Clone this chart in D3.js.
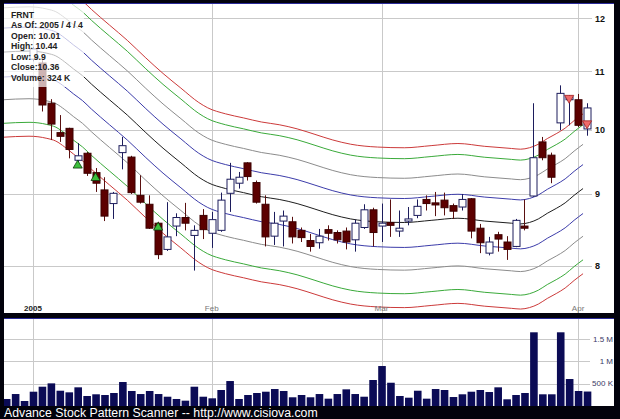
<!DOCTYPE html>
<html><head><meta charset="utf-8">
<script src="https://cdn.jsdelivr.net/npm/d3@7"></script>
<style>html,body{margin:0;padding:0;background:#000;}svg{display:block;}</style>
</head><body>
<svg id="chart" width="620" height="419"></svg>
<script>
// ---------- data ----------
const dates = [
 "2004-12-29","2004-12-30","2004-12-31",
 "2005-01-03","2005-01-04","2005-01-05","2005-01-06","2005-01-07","2005-01-10","2005-01-11","2005-01-12","2005-01-13","2005-01-14",
 "2005-01-18","2005-01-19","2005-01-20","2005-01-21","2005-01-24","2005-01-25","2005-01-26","2005-01-27","2005-01-28","2005-01-31",
 "2005-02-01","2005-02-02","2005-02-03","2005-02-04","2005-02-07","2005-02-08","2005-02-09","2005-02-10","2005-02-11","2005-02-14",
 "2005-02-15","2005-02-16","2005-02-17","2005-02-18","2005-02-22","2005-02-23","2005-02-24","2005-02-25","2005-02-28",
 "2005-03-01","2005-03-02","2005-03-03","2005-03-04","2005-03-07","2005-03-08","2005-03-09","2005-03-10","2005-03-11","2005-03-14",
 "2005-03-15","2005-03-16","2005-03-17","2005-03-18","2005-03-21","2005-03-22","2005-03-23","2005-03-24","2005-03-28","2005-03-29",
 "2005-03-30","2005-03-31","2005-04-01","2005-04-04"];
const openP = [null,null,null,
 11.22,11.15,10.44,9.95,10.02,9.51,9.62,9.32,9.06,8.86,
 9.63,9.56,8.98,8.85,8.58,8.22,8.54,8.66,8.41,8.69,
 8.44,8.48,9.01,9.16,9.47,9.17,8.85,8.40,8.61,8.60,
 8.48,8.34,8.31,8.49,8.45,8.47,8.35,8.52,8.77,
 8.54,8.59,8.47,8.61,8.69,8.92,8.87,8.91,8.83,8.81,
 8.93,8.51,8.17,8.42,8.32,8.26,8.54,8.97,9.80,9.59,
 10.11,10.50,10.50,10.01];
const highP = [null,null,null,
 11.45,11.20,10.51,10.24,10.03,9.78,9.64,9.39,9.25,9.03,
 9.88,9.58,9.28,8.98,8.60,8.88,8.72,8.87,8.55,8.78,
 8.74,9.02,9.47,9.33,9.48,9.20,8.98,8.74,8.76,8.67,
 8.52,8.43,8.50,8.55,8.48,8.52,8.63,8.85,8.80,
 8.86,8.92,8.76,8.81,8.92,8.98,9.03,9.02,8.86,9.00,
 8.94,8.57,8.39,8.46,8.40,8.64,8.92,10.44,9.88,9.63,
 10.75,10.58,10.60,10.44];
const lowP = [null,null,null,
 11.18,10.30,9.83,9.80,9.54,9.40,9.27,9.03,8.61,8.64,
 9.37,9.00,8.86,8.50,8.09,8.20,8.40,8.48,7.94,8.36,
 8.24,8.46,8.74,9.08,9.20,8.86,8.26,8.28,8.26,8.30,
 8.32,8.19,8.23,8.34,8.30,8.22,8.19,8.50,8.26,
 8.32,8.39,8.39,8.55,8.65,8.76,8.68,8.69,8.64,8.76,
 8.37,8.17,8.14,8.19,8.08,8.25,8.48,8.96,9.51,9.16,
 9.99,10.07,10.04,9.90];
const closeP = [null,null,null,
 11.41,10.41,10.09,9.89,9.68,9.58,9.31,9.16,8.68,9.01,
 9.74,9.02,8.88,8.51,8.15,8.39,8.66,8.58,8.48,8.49,
 8.63,8.91,9.22,9.25,9.26,8.88,8.39,8.58,8.68,8.39,
 8.38,8.26,8.40,8.44,8.35,8.32,8.58,8.77,8.45,
 8.58,8.55,8.51,8.64,8.82,8.86,8.84,8.80,8.75,8.92,
 8.47,8.31,8.32,8.36,8.22,8.62,8.51,9.55,9.55,9.25,
 10.61,10.55,10.07,10.36];
const volumeK = [157,268,112,
 320,432,507,342,306,418,224,262,246,291,
 537,336,268,336,268,208,157,119,432,208,
 172,358,559,157,246,291,320,380,336,195,
 246,195,268,164,268,373,268,208,582,
 895,521,224,186,342,164,380,358,201,262,
 320,358,313,418,150,246,291,1650,262,262,
 1650,604,336,324];

// center moving average (read at knots) and envelope percentages
const maDates = ["2004-12-29","2005-01-03","2005-01-05","2005-01-06","2005-01-07","2005-01-10","2005-01-11","2005-01-12",
 "2005-01-14","2005-01-19","2005-01-21","2005-01-25","2005-01-27","2005-01-31","2005-02-01","2005-02-03","2005-02-07",
 "2005-02-09","2005-02-11","2005-02-15","2005-02-17","2005-02-22","2005-02-24","2005-03-01","2005-03-04","2005-03-09",
 "2005-03-14","2005-03-17","2005-03-22","2005-03-23","2005-03-24","2005-03-28","2005-03-29","2005-03-30","2005-03-31",
 "2005-04-01","2005-04-04"];
const maCenter = [11.35,11.37,11.33,11.28,11.17,11.04,10.92,10.77,
 10.50,10.24,9.96,9.70,9.47,9.25,9.17,9.08,9.02,
 8.96,8.92,8.86,8.78,8.70,8.64,8.60,8.59,8.62,
 8.65,8.61,8.58,8.57,8.59,8.64,8.72,8.79,8.87,
 8.98,9.08];
const bandPct = [13, 11, 7.5, 4, 0, -4, -7.5, -11, -13];
const bandColors = ["#cc3a3a","#3aaa3a","#8c8c8c","#3c3caa","#1e1e1e","#3c3caa","#8c8c8c","#3aaa3a","#cc3a3a"];

const upSignalDates = ["2005-01-10","2005-01-12","2005-01-24"];
const upSignalPrices = [9.43,9.24,8.52];
const downSignalDates = ["2005-03-31","2005-04-04"];
const downSignalPrices = [10.53,10.10];

const priceTicks = [8,9,10,11,12];
const volTicks = [500000,1000000,1500000];
const volTickLabels = ["500 K","1 M","1.5 M"];
const monthTickDates = ["2005-01-03","2005-02-01","2005-03-01","2005-04-01"];
const monthTickLabels = ["2005","Feb","Mar","Apr"];
const infoLines = ["FRNT","As Of: 2005 / 4 / 4","Open: 10.01","High: 10.44","Low: 9.9","Close:10.36","Volume: 324 K"];
const caption = "Advance Stock Pattern Scanner -- http://www.cisiova.com";

// ---------- drawing ----------
(function () {
const svg = d3.select("#chart");
const W = 620, H = 419;
const font = "'Liberation Sans', Arial, Helvetica, sans-serif";

svg.append("rect").attr("width", W).attr("height", H).attr("fill", "#02020c");

const pTop = {x:4, y:4, w:610, h:309};
const pBot = {x:4, y:319, w:610, h:87};

svg.append("rect").attr("x", pTop.x).attr("y", pTop.y).attr("width", pTop.w).attr("height", pTop.h).attr("fill", "#fff");
svg.append("rect").attr("x", pBot.x).attr("y", pBot.y).attr("width", pBot.w).attr("height", pBot.h).attr("fill", "#fff");
svg.append("line").attr("x1", 4).attr("x2", 614).attr("y1", 3.5).attr("y2", 3.5).attr("stroke", "#2a2a9a");
svg.append("line").attr("x1", 4).attr("x2", 614).attr("y1", 318.5).attr("y2", 318.5).attr("stroke", "#2a2a9a");

const defs = svg.append("defs");
defs.append("clipPath").attr("id", "clipTop").append("rect")
  .attr("x", pTop.x).attr("y", pTop.y).attr("width", pTop.w).attr("height", pTop.h);
defs.append("clipPath").attr("id", "clipBot").append("rect")
  .attr("x", pBot.x).attr("y", pBot.y).attr("width", pBot.w).attr("height", pBot.h);

const x = d3.scaleBand().domain(dates).range([1.73, 591.5]).padding(0);
const xc = d => x(d) + x.bandwidth() / 2;
const y = d3.scaleLog().domain([7.42, 12.28]).range([312, 4]);
const yv = d3.scaleLinear().domain([0, 1500000]).range([406, 339]);

const gTop = svg.append("g").attr("clip-path", "url(#clipTop)");
const gBot = svg.append("g").attr("clip-path", "url(#clipBot)");

const gridColor = "#c9c9c9";
gTop.selectAll(".hg").data(priceTicks).enter().append("line")
  .attr("x1", 4).attr("x2", 592)
  .attr("y1", d => Math.round(y(d)) + 0.5).attr("y2", d => Math.round(y(d)) + 0.5)
  .attr("stroke", gridColor);
[gTop, gBot].forEach(g => {
  g.selectAll(".vg").data(monthTickDates).enter().append("line")
    .attr("x1", d => Math.round(xc(d)) + 0.5).attr("x2", d => Math.round(xc(d)) + 0.5)
    .attr("y1", 0).attr("y2", H).attr("stroke", gridColor);
});
gBot.selectAll(".vhg").data(volTicks).enter().append("line")
  .attr("x1", 4).attr("x2", 590)
  .attr("y1", d => Math.round(yv(d)) + 0.5).attr("y2", d => Math.round(yv(d)) + 0.5)
  .attr("stroke", gridColor);

const ma = maDates.map((d, i) => ({d, v: maCenter[i]}));
const lineOffset = -4;
bandPct.forEach((p, k) => {
  const line = d3.line()
    .x(o => xc(o.d) + lineOffset)
    .y(o => y(o.v * (1 + p / 100)))
    .curve(d3.curveMonotoneX);
  gTop.append("path").attr("d", line(ma)).attr("fill", "none")
    .attr("stroke", bandColors[k]).attr("stroke-width", 1);
});

const candles = dates.map((d, i) => ({d, o: openP[i], h: highP[i], l: lowP[i], c: closeP[i]})).filter(c => c.o != null);
const cg = gTop.selectAll(".cd").data(candles).enter().append("g");
cg.append("line")
  .attr("x1", c => Math.round(xc(c.d)) + 0.5).attr("x2", c => Math.round(xc(c.d)) + 0.5)
  .attr("y1", c => y(c.h)).attr("y2", c => y(c.l))
  .attr("stroke", c => c.c >= c.o ? "#1c1c5c" : "#5a1010").attr("stroke-width", 1);
cg.append("rect")
  .attr("x", c => Math.round(xc(c.d)) - 3)
  .attr("y", c => y(Math.max(c.o, c.c)))
  .attr("width", 7)
  .attr("height", c => Math.max(1, y(Math.min(c.o, c.c)) - y(Math.max(c.o, c.c))))
  .attr("fill", c => c.c >= c.o ? "#fff" : "#5c0000")
  .attr("stroke", c => c.c >= c.o ? "#1c1c5c" : "#3c0000")
  .attr("stroke-width", 1);

const tri = d3.symbol().type(d3.symbolTriangle).size(36);
upSignalDates.forEach((d, i) => {
  gTop.append("path").attr("d", tri())
    .attr("transform", `translate(${xc(d)},${y(upSignalPrices[i])})`)
    .attr("fill", "#3cbf3c").attr("stroke", "#0e3a0e").attr("stroke-width", 0.8);
});
downSignalDates.forEach((d, i) => {
  gTop.append("path").attr("d", tri())
    .attr("transform", `translate(${xc(d)},${y(downSignalPrices[i])}) rotate(180)`)
    .attr("fill", "#f06a6a").attr("stroke", "#a02020").attr("stroke-width", 0.8);
});

svg.append("rect").attr("x", 4).attr("y", 4).attr("width", 80).attr("height", 83)
  .attr("fill", "#fff").attr("fill-opacity", 0.7);
svg.selectAll(".info").data(infoLines).enter().append("text")
  .attr("x", 11).attr("y", (d, i) => 17.5 + i * 10.5)
  .attr("font-family", font).attr("font-size", 8.7).attr("font-weight", "bold")
  .attr("fill", "#222").text(d => d);

svg.selectAll(".pl").data(priceTicks).enter().append("text")
  .attr("x", 595).attr("y", d => y(d) + 3.5)
  .attr("font-family", font).attr("font-size", 9).attr("font-weight", "bold")
  .attr("fill", "#111").text(d => d);

svg.selectAll(".ml").data(monthTickDates).enter().append("text")
  .attr("x", d => xc(d)).attr("y", 311)
  .attr("text-anchor", "middle")
  .attr("font-family", font).attr("font-size", 8)
  .attr("font-weight", (d, i) => i === 0 ? "bold" : "normal")
  .attr("fill", (d, i) => i === 0 ? "#222" : "#777")
  .text((d, i) => monthTickLabels[i]);

gBot.selectAll(".vb").data(dates).enter().append("rect")
  .attr("x", d => xc(d) - 3.3)
  .attr("y", (d, i) => yv(volumeK[i] * 1000))
  .attr("width", 7.6)
  .attr("height", (d, i) => yv(0) - yv(volumeK[i] * 1000))
  .attr("fill", "#0b0b55");

svg.selectAll(".vl").data(volTicks).enter().append("text")
  .attr("x", 613).attr("y", d => yv(d) + 2.5)
  .attr("text-anchor", "end")
  .attr("font-family", font).attr("font-size", 8)
  .attr("fill", "#3a3a66").text((d, i) => volTickLabels[i]);

svg.append("text").attr("x", 4).attr("y", 417)
  .attr("font-family", font).attr("font-size", 12.3)
  .attr("fill", "#fff").text(caption);
})();
</script>
</body></html>
